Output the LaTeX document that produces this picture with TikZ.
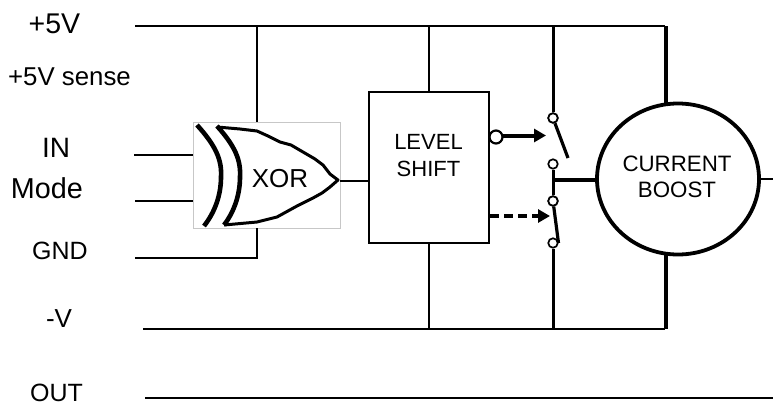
\documentclass[tikz,border=0pt]{standalone}
\usepackage{fontspec}
\setmainfont{Liberation Sans}
\usetikzlibrary{arrows.meta,shapes.geometric,calc}
\tikzset{
  wire/.style={line width=2.8pt,black},
  thick wire/.style={line width=4.2pt,black},
  lbl/.style={inner sep=0pt,align=center,text=black},
  contact/.style={circle,draw=black,line width=1.7pt,fill=white,minimum size=9.5pt,inner sep=0pt},
  ctl/.style={line width=4pt,-{Triangle[length=12pt,width=13pt]}},
  xorline/.style={line width=4.6pt,line cap=butt},
}
\begin{document}
\begin{tikzpicture}[x=1pt,y=-1pt]
\useasboundingbox (0,0) rectangle (773,405);
\fill[white] (0,0) rectangle (773,405);
% labels
\node[lbl,font=\fontsize{28.5}{28}\selectfont] at (54.5,24) {+5V};
\node[lbl,font=\fontsize{25.8}{26}\selectfont] at (69.5,77) {+5V sense};
\node[lbl,font=\fontsize{28}{28}\selectfont] at (56,148) {IN};
\node[lbl,font=\fontsize{28.8}{28}\selectfont] at (47,188) {Mode};
\node[lbl,font=\fontsize{25}{25}\selectfont] at (60,251) {GND};
\node[lbl,font=\fontsize{26}{26}\selectfont] at (59,319) {-V};
\node[lbl,font=\fontsize{25}{25}\selectfont] at (56.5,392.5) {OUT};
% rails
\coordinate (vpL) at (135,26); \coordinate (vpR) at (665,26);
\coordinate (vmL) at (143,329); \coordinate (vmR) at (665,329);
\coordinate (outL) at (145,398); \coordinate (outR) at (773,398);
\draw[wire] (vpL) -- (vpR);
\draw[wire] (vmL) -- (vmR);
\draw[wire] (outL) -- (outR);
% XOR
\node[draw=black!22,line width=0.8pt,fill=white,minimum width=147pt,minimum height=106pt,inner sep=0pt] (xor) at (266.5,175) {};
\node[lbl,font=\fontsize{26}{26}\selectfont] at (280,179) {XOR};
\draw[xorline] (197,125) .. controls (216,146) and (222,160) .. (221,177) .. controls (221,195) and (215,212) .. (204,226);
\draw[xorline] (217,126) .. controls (235,146) and (241,160) .. (240,177) .. controls (240,195) and (234,212) .. (224,225);
\draw[line width=3pt,line join=round] (217,127) -- (240,129) -- (257,131) -- (268,136) -- (280,142) -- (291,145) -- (303,152) -- (315,159) -- (323,165) -- (330,174) -- (338,180) -- (330,187) -- (322,193) -- (313,198) -- (297,206) -- (277,217) -- (257,222) -- (224,225);
% inputs
\coordinate (in1) at (134,155); \coordinate (in2) at (135,201);
\coordinate (gndL) at (135,258); \coordinate (gndC) at (257,258);
\draw[wire] (in1) -- (in1-|xor.west);
\draw[wire] (in2) -- (in2-|xor.west);
\draw[wire] (gndL) -- (gndC) -- (gndC|-xor.south);
\draw[wire] (xor.north-|gndC) -- (gndC|-vpL);
% level shift
\node[draw=black,line width=2.8pt,fill=white,minimum width=120pt,minimum height=151pt,inner sep=0pt] (ls) at (429,167.5) {};
\node[lbl,font=\fontsize{22}{27}\selectfont] at (428.5,156) {LEVEL\\[0pt]SHIFT};
\draw[wire] (ls.north) -- (ls.north|-vpL);
\draw[wire] (ls.south) -- (ls.south|-vmL);
\coordinate (xorout) at (340,181);
\draw[wire] (xorout) -- (xorout-|ls.west);
% switches
\node[contact] (s1) at (553,118) {};
\node[contact] (s2) at (553,164) {};
\node[contact] (s3) at (553,201) {};
\node[contact] (s4) at (553,243) {};
\coordinate (a1) at (568,158);
\draw[line width=3.2pt] (s1) -- (a1);
\coordinate (a2) at (558.5,243);
\draw[line width=3.2pt] (s3) -- (a2);
\node[contact] at (s1) {};
\node[contact] at (s3) {};
\draw[line width=3pt] (s1.north) -- (s1.north|-vpL);
\draw[line width=3pt] (s4.south) -- (s4.south|-vmL);
\draw[line width=3pt] (s2.south) -- (s3.north);
% control arrows
\coordinate (ar1) at (546,135.5);
\coordinate (ar2) at (550,216);
\draw[ctl] (496,135.5) -- (ar1);
\node[contact,line width=2.2pt,minimum size=13pt] (bub) at (496,137) {};
\draw[ctl,dash pattern=on 9pt off 5pt] (ls.east|-ar2) -- (ar2);
% boost
\node[draw=black,line width=3.8pt,fill=white,ellipse,minimum width=162pt,minimum height=151pt,inner sep=0pt] (cb) at (678,179) {};
\node[lbl,font=\fontsize{22.3}{26}\selectfont] at (677,177) {CURRENT\\[0pt]BOOST};
\coordinate (j) at (553,180);
\draw[line width=3.6pt] (j) -- (cb.west|-j);
\draw[thick wire] (cb.north) ++(-12,1) coordinate (cbt) -- (cbt|-vpL);
\draw[thick wire] (cb.south) ++(-12,-1) coordinate (cbb) -- (cbb|-vmL);
\coordinate (stub) at (773,179);
\draw[wire] (cb.east) -- (stub);
\end{tikzpicture}
\end{document}
